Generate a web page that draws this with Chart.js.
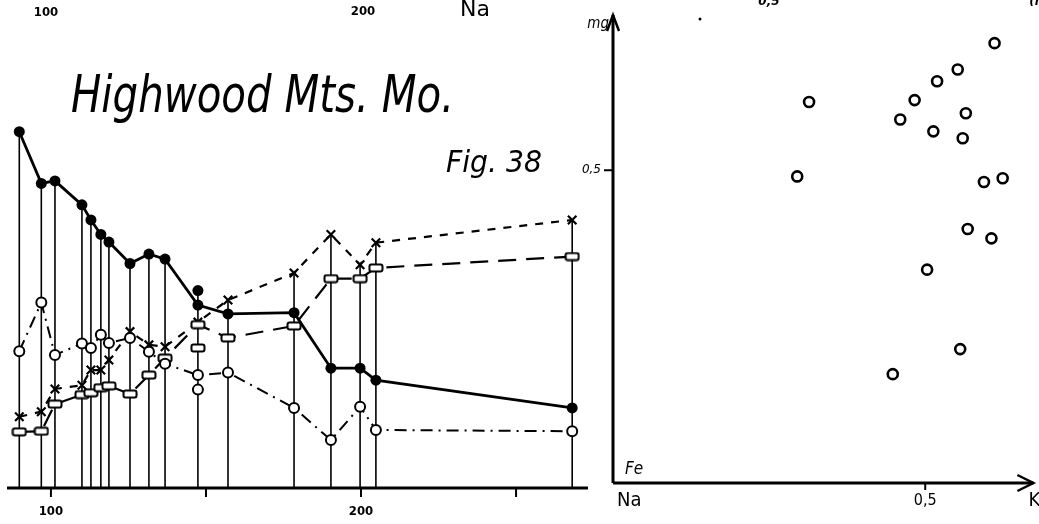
<!DOCTYPE html>
<html>
<head>
<meta charset="utf-8">
<script src="https://cdn.jsdelivr.net/npm/chart.js@4.4.1/dist/chart.umd.min.js"></script>
<style>
html, body { margin: 0; padding: 0; background: #fff; }
body { width: 1039px; height: 524px; position: relative; overflow: hidden; }
#left { position: absolute; left: 0; top: 0; }
#right { position: absolute; left: 560px; top: 0; }
</style>
</head>
<body>
<canvas id="left" width="600" height="524"></canvas>
<canvas id="right" width="479" height="524"></canvas>
<script>
// left diagram: Niggli values against si
const siValues = [89.8, 96.9, 101.3, 110.0, 112.9, 116.1, 118.7, 125.5, 131.6, 136.8, 147.4, 157.1, 178.4, 190.3, 199.7, 204.8, 268.1];
const fmValues = [56.5, 48.3, 48.7, 44.9, 42.5, 40.2, 39.0, 35.6, 37.1, 36.3, 29.0, 27.6, 27.8, 19.0, 19.0, 17.1, 12.7];
const alkValues = [11.3, 12.1, 15.7, 16.3, 18.7, 18.7, 20.3, 24.8, 22.7, 22.4, 26.3, 29.8, 34.1, 40.2, 35.4, 38.9, 42.5];
const alValues = [8.9, 9.0, 13.3, 14.8, 15.1, 15.9, 16.2, 14.9, 17.9, 20.6, 25.9, 23.8, 25.7, 33.2, 33.2, 34.9, 36.7];
const cValues = [21.7, 29.4, 21.1, 22.9, 22.2, 24.3, 23.0, 23.8, 21.6, 19.7, 17.9, 18.3, 12.7, 7.6, 12.9, 9.2, 9.0];
// second analysis drawn at si 147.4
const extraSi = 147.4;
const extraFm = 31.3, extraAl = 22.2, extraC = 15.6;
const siTicks = [100, 150, 200, 250];
const siLabels = ['100', '', '200', ''];

// right diagram: k against mg
const kValues = [0.611, 0.552, 0.519, 0.483, 0.314, 0.565, 0.460, 0.513, 0.560, 0.295, 0.594, 0.624, 0.568, 0.606, 0.503, 0.556, 0.448];
const mgValues = [0.703, 0.661, 0.642, 0.612, 0.609, 0.591, 0.581, 0.562, 0.551, 0.490, 0.481, 0.487, 0.406, 0.391, 0.341, 0.214, 0.174];

function pts(xs, ys) { return xs.map((x, i) => ({ x: x, y: ys[i] })); }

// little rounded box used as the al marker
const box = document.createElement('canvas');
box.width = 16; box.height = 10;
(function () {
  const c = box.getContext('2d');
  c.fillStyle = '#fff'; c.strokeStyle = '#000'; c.lineWidth = 2;
  c.beginPath();
  c.roundRect(1.5, 1.5, 13, 7, 2);
  c.fill(); c.stroke();
})();

function squeezeText(ctx, text, x, y, font, width) {
  ctx.save();
  ctx.font = font;
  const w = ctx.measureText(text).width;
  ctx.translate(x, y);
  ctx.scale(width / w, 1);
  ctx.fillText(text, 0, 0);
  ctx.restore();
}

const tieLines = {
  id: 'tieLines',
  beforeDatasetsDraw(chart) {
    const ctx = chart.ctx, xs = chart.scales.x, ys = chart.scales.y;
    ctx.save();
    ctx.strokeStyle = '#000';
    ctx.lineWidth = 1.6;
    siValues.forEach(si => {
      let top = 0;
      chart.data.datasets.forEach(ds => ds.data.forEach(p => {
        if (Math.abs(p.x - si) < 0.01 && p.y > top) top = p.y;
      }));
      const px = xs.getPixelForValue(si);
      ctx.beginPath();
      ctx.moveTo(px, ys.getPixelForValue(0));
      ctx.lineTo(px, ys.getPixelForValue(top));
      ctx.stroke();
    });
    ctx.restore();
  }
};

const leftAxis = {
  id: 'leftAxis',
  afterDraw(chart) {
    const ctx = chart.ctx, xs = chart.scales.x, a = chart.chartArea;
    ctx.save();
    ctx.strokeStyle = '#000';
    ctx.fillStyle = '#000';
    ctx.lineWidth = 3;
    ctx.beginPath();
    ctx.moveTo(a.left - 3, a.bottom);
    ctx.lineTo(a.right, a.bottom);
    ctx.stroke();
    ctx.lineWidth = 2;
    ctx.textAlign = 'center';
    ctx.textBaseline = 'middle';
    ctx.font = 'bold 13px "DejaVu Sans Condensed", "DejaVu Sans", sans-serif';
    siTicks.forEach((t, i) => {
      const px = xs.getPixelForValue(t);
      ctx.beginPath();
      ctx.moveTo(px, a.bottom);
      ctx.lineTo(px, a.bottom + 9);
      ctx.stroke();
      if (siLabels[i]) ctx.fillText(siLabels[i], px, a.bottom + 24);
    });
    // remains of the figure above
    ctx.fillText('100', 46, 13);
    ctx.fillText('200', 363, 12);
    ctx.font = '22px "DejaVu Sans", sans-serif';
    ctx.fillText('Na', 475, 10);
    ctx.textAlign = 'left';
    ctx.textBaseline = 'alphabetic';
    squeezeText(ctx, 'Highwood Mts. Mo.', 71, 112, 'italic 52px "DejaVu Sans", sans-serif', 383);
    squeezeText(ctx, 'Fig. 38', 446, 172, 'italic 30px "DejaVu Sans", sans-serif', 96);
    ctx.restore();
  }
};

new Chart(document.getElementById('left'), {
  type: 'line',
  data: {
    datasets: [
      { label: 'fm', data: pts(siValues, fmValues), borderColor: '#000', borderWidth: 2.8,
        pointStyle: 'circle', pointRadius: 5.5, pointBackgroundColor: '#000', pointBorderWidth: 0 },
      { label: 'c', data: pts(siValues, cValues), borderColor: '#000', borderWidth: 2, borderDash: [12, 6, 2, 6],
        pointStyle: 'circle', pointRadius: 5, pointBackgroundColor: '#fff', pointBorderColor: '#000', pointBorderWidth: 2 },
      { label: 'al', data: pts(siValues, alValues), borderColor: '#000', borderWidth: 2.2, borderDash: [18, 10],
        pointStyle: box },
      { label: 'alk', data: pts(siValues, alkValues), borderColor: '#000', borderWidth: 2.2, borderDash: [8, 8],
        pointStyle: 'crossRot', pointRadius: 6, pointBorderColor: '#000', pointBorderWidth: 2.2 },
      { label: 'fm 2', data: [{ x: extraSi, y: extraFm }], showLine: false,
        pointStyle: 'circle', pointRadius: 5.5, pointBackgroundColor: '#000', pointBorderWidth: 0 },
      { label: 'al 2', data: [{ x: extraSi, y: extraAl }], showLine: false, pointStyle: box },
      { label: 'c 2', data: [{ x: extraSi, y: extraC }], showLine: false,
        pointStyle: 'circle', pointRadius: 5, pointBackgroundColor: '#fff', pointBorderColor: '#000', pointBorderWidth: 2 }
    ]
  },
  options: {
    responsive: false,
    animation: false,
    layout: { padding: { left: 10, right: 12, top: 97, bottom: 36 } },
    plugins: { legend: { display: false }, tooltip: { enabled: false } },
    scales: {
      x: { type: 'linear', min: 86.8, max: 273.2, display: false },
      y: { min: 0, max: 62, display: false }
    }
  },
  plugins: [tieLines, leftAxis]
});

const rightAxis = {
  id: 'rightAxis',
  afterDraw(chart) {
    const ctx = chart.ctx, xs = chart.scales.x, ys = chart.scales.y, a = chart.chartArea;
    const x0 = xs.getPixelForValue(0), y0 = ys.getPixelForValue(0);
    ctx.save();
    ctx.strokeStyle = '#000';
    ctx.fillStyle = '#000';
    ctx.lineWidth = 3;
    ctx.beginPath();
    ctx.moveTo(x0, y0);
    ctx.lineTo(x0, a.top);
    ctx.moveTo(x0, y0);
    ctx.lineTo(a.right + 2, y0);
    ctx.stroke();
    ctx.lineWidth = 2.5;
    ctx.beginPath();
    ctx.moveTo(x0 - 6, a.top + 16); ctx.lineTo(x0, a.top); ctx.lineTo(x0 + 6, a.top + 16);
    ctx.moveTo(a.right - 14, y0 - 8); ctx.lineTo(a.right + 2, y0); ctx.lineTo(a.right - 14, y0 + 8);
    ctx.stroke();
    // 0,5 ticks
    ctx.lineWidth = 2;
    const tx = xs.getPixelForValue(0.5), ty = ys.getPixelForValue(0.5);
    ctx.beginPath();
    ctx.moveTo(tx, y0); ctx.lineTo(tx, y0 + 7);
    ctx.moveTo(x0, ty); ctx.lineTo(x0 - 9, ty);
    ctx.stroke();
    ctx.font = 'italic 12px "DejaVu Sans", sans-serif';
    ctx.textAlign = 'right';
    ctx.textBaseline = 'middle';
    ctx.fillText('0,5', x0 - 12, ty);
    ctx.textAlign = 'center';
    ctx.font = '16px "DejaVu Sans Condensed", "DejaVu Sans", sans-serif';
    ctx.fillText('0,5', tx, y0 + 18);
    ctx.font = '20px "DejaVu Sans Condensed", "DejaVu Sans", sans-serif';
    ctx.textAlign = 'left';
    ctx.fillText('Na', x0 + 4, y0 + 18);
    ctx.fillText('K', a.right - 3, y0 + 18);
    ctx.font = 'italic 17px "DejaVu Sans Condensed", "DejaVu Sans", sans-serif';
    ctx.fillText('Fe', x0 + 12, y0 - 13);
    ctx.textAlign = 'right';
    ctx.font = 'italic 15px "DejaVu Sans Condensed", "DejaVu Sans", sans-serif';
    ctx.fillText('mg', x0 - 4, a.top + 9);
    // remains of the figure above
    ctx.textAlign = 'center';
    ctx.font = 'italic bold 12px "DejaVu Sans", sans-serif';
    ctx.fillText('0,5', 209, 2);
    ctx.fillText('(i', 474, 2);
    ctx.beginPath();
    ctx.arc(140, 19, 1.5, 0, Math.PI * 2);
    ctx.fill();
    ctx.restore();
  }
};

new Chart(document.getElementById('right'), {
  type: 'scatter',
  data: {
    datasets: [{
      label: 'k / mg', data: pts(kValues, mgValues),
      pointStyle: 'circle', pointRadius: 5, pointBackgroundColor: '#fff',
      pointBorderColor: '#000', pointBorderWidth: 2.6
    }]
  },
  options: {
    responsive: false,
    animation: false,
    layout: { padding: { left: 53, right: 4, top: 15, bottom: 41 } },
    plugins: { legend: { display: false }, tooltip: { enabled: false } },
    scales: {
      x: { type: 'linear', min: 0, max: 0.67, display: false },
      y: { min: 0, max: 0.748, display: false }
    }
  },
  plugins: [rightAxis]
});
</script>
</body>
</html>
